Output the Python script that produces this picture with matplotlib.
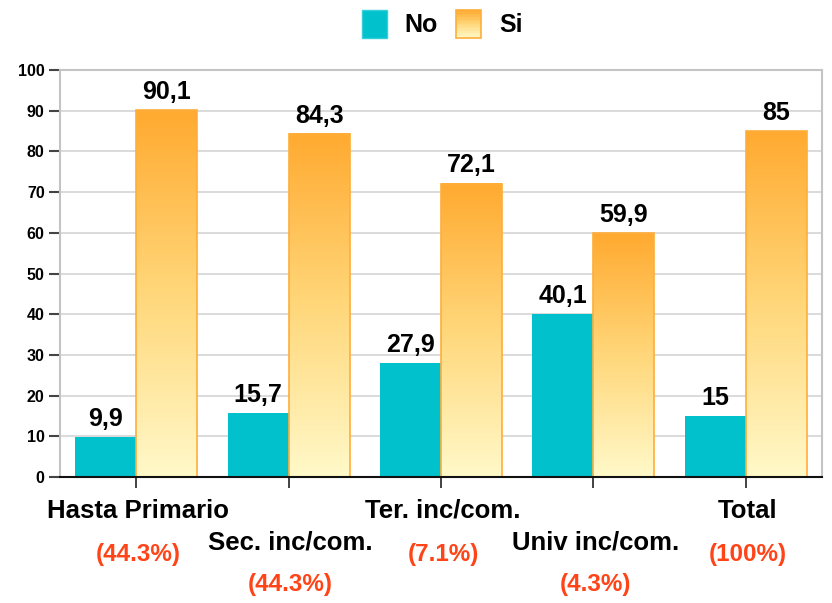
import numpy as np
import matplotlib
matplotlib.use("Agg")
import matplotlib.pyplot as plt
import matplotlib.patches as mpatches
from matplotlib.legend_handler import HandlerBase
from matplotlib.colors import LinearSegmentedColormap

categories = ["Hasta Primario", "Sec. inc/com.", "Ter. inc/com.", "Univ inc/com.", "Total"]
shares = ["(44.3%)", "(44.3%)", "(7.1%)", "(4.3%)", "(100%)"]
no_vals = [9.9, 15.7, 27.9, 40.1, 15]
si_vals = [90.1, 84.3, 72.1, 59.9, 85]
no_text = ["9,9", "15,7", "27,9", "40,1", "15"]
si_text = ["90,1", "84,3", "72,1", "59,9", "85"]

TEAL = "#00C1CC"
ORANGE_EDGE = "#FFAE3A"
RED = "#FF4418"
grad = LinearSegmentedColormap.from_list("si", ["#FFF9C9", "#FFD77A", "#FFAA30"])


class GradientHandler(HandlerBase):
    # legend box for "Si": stacked stripes faking the bar gradient
    def create_artists(self, legend, orig, xd, yd, width, height, fontsize, trans):
        arts = []
        n = 20
        for k in range(n):
            r = mpatches.Rectangle((-xd, -yd + height * k / n), width, height / n,
                                   facecolor=grad(k / (n - 1)), edgecolor="none",
                                   transform=trans)
            arts.append(r)
        arts.append(mpatches.Rectangle((-xd, -yd), width, height, facecolor="none",
                                       edgecolor=ORANGE_EDGE, linewidth=1.2,
                                       transform=trans))
        return arts


plt.rcParams["font.family"] = ["Liberation Sans", "DejaVu Sans"]
plt.rcParams["font.weight"] = "bold"

fig = plt.figure(figsize=(8.32, 6.03), dpi=100)
ax = fig.add_axes([60 / 832, 126 / 603, 762 / 832, 407 / 603])

x = np.arange(len(categories))
w = 0.4
ax.bar(x - w / 2, no_vals, width=w, color=TEAL, zorder=3)

g = np.linspace(0, 1, 256).reshape(-1, 1)
for xi, v in zip(x, si_vals):
    ax.imshow(g, cmap=grad, origin="lower", aspect="auto",
              extent=[xi, xi + w, 0, v], zorder=3)
ax.bar(x + w / 2, si_vals, width=w, facecolor="none", edgecolor=ORANGE_EDGE,
       linewidth=1.2, zorder=4)

for xi, v, t in zip(x, no_vals, no_text):
    ax.text(xi - w / 2, v + 1.5, t, ha="center", va="bottom", fontsize=18,
            fontweight="bold")
for xi, v, t in zip(x, si_vals, si_text):
    ax.text(xi + w / 2, v + 1.5, t, ha="center", va="bottom", fontsize=18,
            fontweight="bold")

# category labels staggered on two rows, shares in red below
for i, (c, s) in enumerate(zip(categories, shares)):
    low = i % 2 == 1
    ax.annotate(c, xy=(i, 0), xycoords=("data", "axes fraction"),
                xytext=(2, -66 if low else -34), textcoords="offset pixels",
                ha="center", va="center", fontsize=18.5, fontweight="bold")
    ax.annotate(s, xy=(i, 0), xycoords=("data", "axes fraction"),
                xytext=(2, -108 if low else -77), textcoords="offset pixels",
                ha="center", va="center", fontsize=17.5, fontweight="bold",
                color=RED)

ax.set_xlim(-0.5, 4.5)
ax.set_ylim(0, 100)
ax.set_yticks(np.arange(0, 101, 10))
ax.set_xticks(x)
ax.set_xticklabels([])
ax.tick_params(axis="x", length=8, width=1.2, color="#222222", direction="out")
ax.tick_params(axis="y", length=8, width=1.5, color="#444444", labelsize=11.5,
               pad=3)
for lab in ax.get_yticklabels():
    lab.set_fontweight("bold")
ax.grid(axis="y", color="#D4D4D4", linewidth=1.2, zorder=0)
ax.set_axisbelow(True)
for side in ["left", "top", "right"]:
    ax.spines[side].set_color("#C4C4C4")
    ax.spines[side].set_linewidth(1.5)
ax.spines["bottom"].set_color("#111111")
ax.spines["bottom"].set_linewidth(1.5)
ax.spines["bottom"].set_zorder(5)

h_no = mpatches.Patch(facecolor=TEAL, edgecolor="#33D0D8", label="No")
h_si = mpatches.Patch(facecolor="#FFD680", edgecolor=ORANGE_EDGE, label="Si")
fig.legend(handles=[h_no, h_si], loc="center",
           bbox_to_anchor=(442 / 832, 1 - 24 / 603),
           ncol=2, frameon=False, handlelength=1.0,
           handleheight=1.4, handletextpad=0.7, columnspacing=0.75,
           prop={"weight": "bold", "size": 18},
           handler_map={h_si: GradientHandler()})

fig.savefig("out.png", dpi=100)
